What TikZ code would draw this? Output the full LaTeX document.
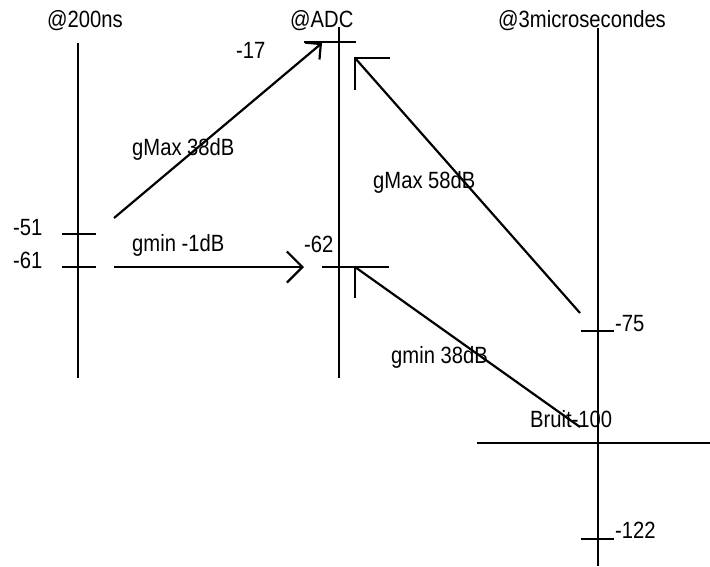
\documentclass[tikz,border=0pt]{standalone}
\usepackage{fontspec}
\usepackage{tikz}
\usetikzlibrary{arrows.meta, positioning, calc}
\newfontfamily\lblfont[FakeStretch=0.86]{Liberation Sans}

\tikzset{
    axe/.style={line width=2.2pt},
    graduation/.style={line width=2.2pt},
    valeur/.style={font=\lblfont\fontsize{23.5}{27}\selectfont, inner sep=0pt, anchor=base west},
    gain/.style={line width=2.2pt, line join=miter},
    petite/.style={-{Straight Barb[length=11pt, width=22pt]}},
    moyenne/.style={-{Straight Barb[length=15.5pt, width=31pt]}}
}

\begin{document}
\begin{tikzpicture}[x=1pt, y=-1pt]
    \useasboundingbox (0,0) rectangle (710,566);

    % Axe 1 : @200ns
    \node[valeur] (t200) at (47,27) {@200ns};
    \coordinate (a1haut) at (78,43);
    \coordinate (a1bas) at (78,378);
    \draw[axe] (a1haut) -- (a1bas);
    \draw[graduation] (62,234) -- (96,234);
    \draw[graduation] (62,267) -- (96,267);
    \node[valeur] (v51) at (13,235) {-51};
    \node[valeur] (v61) at (13,268) {-61};

    % Axe 2 : @ADC
    \node[valeur] (tadc) at (290,27) {@ADC};
    \coordinate (a2haut) at (339,27);
    \coordinate (a2bas) at (339,378);
    \draw[axe] (a2haut) -- (a2bas);
    \draw[graduation] (304,42) -- (356,42);
    \draw[graduation] (322,267) -- (389,267);
    \node[valeur] (v17) at (236,58) {-17};
    \node[valeur] (v62) at (304,252) {-62};

    % Axe 3 : @3microsecondes
    \node[valeur] (t3us) at (498,27) {@3microsecondes};
    \coordinate (a3haut) at (598,28);
    \coordinate (a3bas) at (598,566);
    \draw[axe] (a3haut) -- (a3bas);
    \draw[graduation] (581,331) -- (614,331);
    \draw[graduation] (581,539) -- (614,539);
    \draw[graduation] (477,443) -- (710,443);
    \node[valeur] (v75) at (615,331) {-75};
    \node[valeur] (v122) at (615,538) {-122};
    \node[valeur] (bruit) at (530,427) {Bruit-100};

    % Gains
    \coordinate (d51) at (114,218);
    \coordinate (f17) at (322,43);
    \coordinate (d61) at (114,267);
    \coordinate (f62) at (304,267);
    \coordinate (d75) at (580,313);
    \coordinate (f17b) at (355,58);
    \coordinate (d100) at (580,427);
    \coordinate (f62b) at (355,267);
    \draw[gain, petite] (d51) -- (f17);
    \draw[gain, moyenne] (d61) -- (f62);
    \draw[gain] (d75) -- (f17b);
    \draw[gain] ($(f17b)+(35,0)$) -- (f17b) -- ($(f17b)+(0,32)$);
    \draw[gain] (d100) -- (f62b);
    \draw[gain] ($(f62b)+(34,0)$) -- (f62b) -- ($(f62b)+(0,31)$);
    \node[valeur] (gmax38) at (132,155) {gMax 38dB};
    \node[valeur] (gmin1) at (132,251) {gmin -1dB};
    \node[valeur] (gmax58) at (373,188) {gMax 58dB};
    \node[valeur] (gmin38) at (391,363) {gmin 38dB};
\end{tikzpicture}
\end{document}
